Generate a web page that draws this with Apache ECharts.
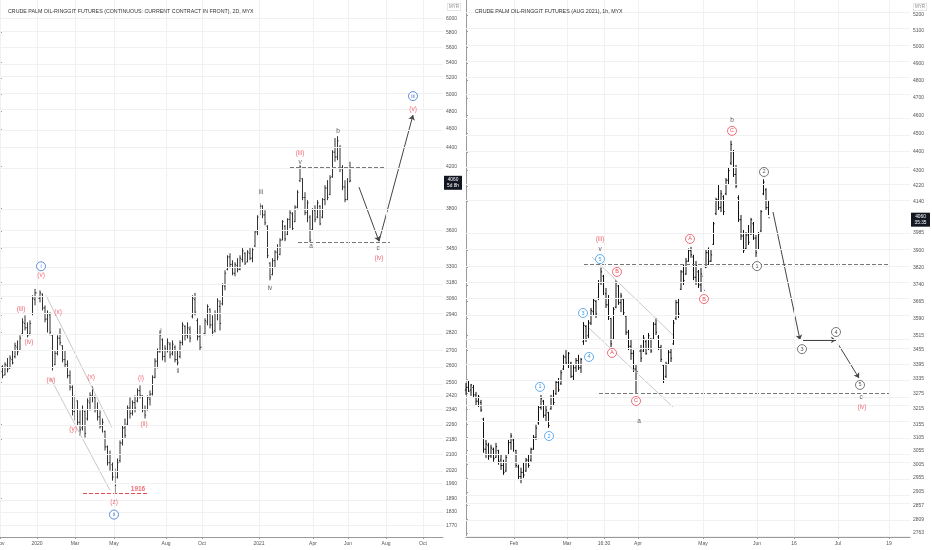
<!DOCTYPE html>
<html>
<head>
<meta charset="utf-8">
<script src="https://cdn.jsdelivr.net/npm/echarts@6/dist/echarts.min.js"></script>
<style>
  html, body { margin: 0; padding: 0; background: #fff; }
  #main { width: 932px; height: 550px; }
</style>
</head>
<body>
<div id="main"></div>
<script>
// left panel: 2D bars, oldest first, [open, high, low, close]
const leftBars = [
  [2530,2585,2511,2570],[2565,2604,2524,2540],[2545,2623,2542,2610],[2605,2650,2560,2580],[2585,2667,2585,2650],
  [2640,2699,2610,2620],[2660,2750,2648,2730],[2720,2765,2667,2690],[2700,2799,2699,2780],[2810,2916,2799,2890],
  [2880,2937,2832,2850],[2850,2888,2785,2800],[2810,2902,2799,2880],[2950,3082,2937,3060],[3050,3130,3008,3100],
  [3100,3165,3045,3060],[3060,3119,3030,3100],[3090,3095,2972,2990],[2990,3008,2888,2910],[2910,2972,2818,2950],
  [2940,2958,2799,2820],[2800,2806,2572,2590],[2610,2699,2604,2680],[2680,2799,2667,2780],[2780,2846,2732,2750],
  [2730,2732,2623,2640],[2640,2699,2592,2610],[2610,2635,2524,2540],[2540,2572,2451,2470],[2470,2481,2308,2330],
  [2330,2422,2280,2400],[2390,2393,2253,2270],[2270,2336,2199,2230],[2240,2364,2226,2340],[2330,2336,2188,2210],
  [2290,2405,2280,2390],[2380,2440,2336,2420],[2420,2475,2382,2460],[2410,2422,2325,2340],[2340,2382,2280,2300],
  [2300,2336,2237,2250],[2250,2291,2215,2270],[2220,2226,2121,2140],[2140,2147,2046,2060],[2060,2121,2021,2100],
  [2050,2061,1973,1990],[1990,2031,1916,1950],[1990,2081,1983,2060],[2070,2173,2061,2160],[2160,2253,2147,2240],
  [2240,2291,2183,2200],[2260,2364,2253,2350],[2350,2410,2291,2320],[2320,2393,2308,2380],[2380,2422,2325,2350],
  [2390,2463,2382,2450],[2450,2481,2405,2420],[2420,2422,2325,2340],[2340,2364,2291,2310],[2340,2422,2336,2410],
  [2400,2451,2364,2430],[2430,2542,2422,2530],[2530,2648,2524,2630],[2630,2712,2585,2690],[2690,2832,2686,2800],
  [2770,2778,2635,2660],[2660,2732,2623,2710],[2700,2778,2686,2750],[2740,2752,2648,2670],[2680,2765,2667,2740],
  [2720,2732,2623,2640],[2640,2699,2604,2620],[2660,2765,2648,2750],[2750,2888,2732,2870],[2860,2867,2765,2800],
  [2800,2888,2778,2850],[2840,2860,2752,2780],[2930,3082,2916,3060],[3050,3100,2937,2960],[2900,2916,2765,2790],
  [2790,2867,2699,2720],[2720,2832,2712,2810],[2810,2916,2799,2900],[2890,3015,2867,3000],[2980,2986,2846,2870],
  [2870,2937,2799,2820],[2830,2972,2818,2950],[2950,3060,2902,3040],[3000,3045,2832,2880],[3020,3172,3008,3160],
  [3150,3273,3119,3250],[3280,3394,3273,3380],[3380,3410,3290,3320],[3320,3353,3234,3250],[3250,3337,3226,3320],
  [3310,3370,3257,3280],[3280,3394,3273,3370],[3360,3452,3337,3430],[3410,3418,3314,3330],[3340,3435,3337,3420],
  [3410,3460,3353,3370],[3370,3452,3337,3440],[3470,3605,3460,3590],[3590,3737,3562,3720],[3740,3846,3737,3820],
  [3820,3828,3710,3740],[3740,3782,3648,3670],[3640,3648,3370,3390],[3330,3337,3195,3220],[3240,3370,3234,3350],
  [3350,3435,3290,3420],[3420,3485,3353,3380],[3400,3536,3394,3520],[3520,3693,3519,3680],[3640,3648,3510,3530],
  [3570,3710,3562,3700],[3700,3782,3622,3760],[3750,3764,3605,3620],[3680,3828,3675,3810],[3810,3969,3800,3950],
  [4060,4216,4049,4200],[4080,4086,3875,3900],[3900,3950,3737,3760],[3760,3875,3675,3850],[3720,3737,3502,3520],
  [3610,3800,3605,3780],[3780,3828,3675,3700],[3720,3875,3710,3850],[3820,3828,3648,3660],[3720,3894,3710,3880],
  [3880,4017,3828,3990],[3990,4066,3875,3900],[3930,4115,3921,4090],[4100,4370,4090,4350],[4350,4500,4250,4300],
  [4300,4520,4267,4470],[4400,4424,4145,4180],[4180,4216,3969,4000],[4000,4066,3856,3880],[3880,4086,3875,4050],
  [4050,4250,4049,4060]
];
const leftPriceTicks = [6000,5800,5600,5400,5200,5000,4800,4600,4400,4200,3800,3600,3450,3300,3180,3060,2940,2820,
  2700,2600,2500,2420,2340,2260,2180,2100,2020,1960,1890,1830,1770];
const leftDateTicks = [0, 14.8, 30, 45.6, 66.4, 80.8, 103.6, 125.2, 139.2, 154.4, 169.2];
const leftDateText = ['Nov','2020','Mar','May','Aug','Oct','2021','Apr','Jun','Aug','Oct'];
const leftRange = [1722.6, 6273.5];

// left panel wave labels [slot, price, text]
const leftRedText = [[8.4,2980,'(iii)'],[11.6,2753,'(iv)'],[16.4,3234,'(v)'],[23.2,2960,'(x)'],[20.4,2511,'(w)'],
  [36.4,2530,'(x)'],[29.2,2232,'(y)'],[45.6,1871,'(z)'],[56.4,2524,'(i)'],[57.6,2262,'(ii)'],
  [120,4339,'(iii)'],[151.6,3369,'(iv)'],[165.2,4824,'(v)']];
const leftLowText = [[55.2,1934,'1916']];
const leftBlackText = [[64.4,2826,'i'],[71.2,2566,'ii'],[104.4,3950,'iii'],[108,3134,'iv'],[120,4250,'v'],
  [124.4,3467,'a'],[135.2,4576,'b'],[151.2,3450,'c']];
const leftBlueCircles = [[16.4,3305,'i'],[45.6,1818,'ii'],[165.2,4978,'iii']];
// [slot1, price1, slot2, price2]
const leftDashed = [[116,4195,154.8,4195],[119.2,3501,156,3501]];
const leftLowLine = [[33.2,1916,58.8,1916]];
const leftChannel = [[18.4,3082,44.8,2242],[20,2530,44,1927]];
const leftArrows = [[143.6,3998,151.6,3510],[151.6,3510,165.2,4756]];

// right panel: 1h bars, oldest first, [open, high, low, close]
const rightBars = [
  [3290,3318,3270,3300],[3300,3330,3282,3285],[3290,3314,3266,3310],[3300,3310,3258,3270],[3270,3282,3230,3245],
  [3245,3270,3222,3262],[3240,3250,3203,3210],[3175,3180,3047,3060],[3060,3095,3028,3080],[3075,3084,3021,3035],
  [3035,3077,3028,3065],[3060,3066,3014,3025],[3030,3084,3028,3070],[3055,3058,3003,3015],[3020,3040,2984,3000],
  [3000,3021,2966,2975],[2980,3040,2977,3030],[3040,3095,3040,3085],[3085,3121,3058,3110],[3095,3103,3051,3060],
  [3055,3058,2992,3000],[2995,3003,2947,2960],[2960,2992,2936,2975],[2975,3010,2955,2965],[2980,3028,2977,3020],
  [3020,3040,2992,3000],[3020,3066,3014,3060],[3060,3114,3058,3105],[3105,3153,3095,3140],[3160,3230,3153,3220],
  [3220,3270,3211,3255],[3245,3250,3180,3190],[3190,3230,3164,3210],[3200,3203,3141,3150],[3215,3270,3211,3260],
  [3260,3290,3230,3240],[3275,3330,3270,3320],[3320,3338,3282,3290],[3315,3371,3310,3360],[3375,3434,3371,3425],
  [3425,3454,3392,3400],[3400,3446,3379,3440],[3400,3405,3338,3345],[3345,3392,3330,3380],[3380,3421,3363,3410],
  [3410,3434,3371,3380],[3380,3421,3359,3415],[3490,3574,3476,3560],[3555,3561,3488,3500],[3515,3583,3505,3570],
  [3570,3636,3561,3625],[3620,3681,3605,3670],[3665,3672,3592,3610],[3680,3762,3672,3750],[3750,3820,3740,3800],
  [3780,3786,3694,3700],[3700,3726,3636,3650],[3650,3694,3583,3600],[3590,3592,3467,3480],[3500,3640,3497,3630],
  [3640,3762,3635,3750],[3735,3740,3650,3660],[3660,3704,3618,3690],[3675,3681,3605,3615],[3600,3605,3518,3530],
  [3530,3540,3454,3470],[3470,3497,3413,3440],[3440,3454,3363,3375],[3375,3392,3278,3360],[3365,3463,3360,3450],
  [3450,3476,3404,3420],[3450,3518,3446,3505],[3490,3497,3434,3440],[3460,3527,3454,3515],[3500,3505,3442,3450],
  [3500,3574,3497,3565],[3565,3592,3518,3530],[3510,3518,3454,3465],[3465,3476,3404,3415],[3390,3392,3318,3330],
  [3345,3405,3338,3395],[3395,3454,3392,3445],[3445,3463,3404,3420],[3480,3583,3476,3570],[3590,3672,3583,3660],
  [3660,3681,3592,3610],[3720,3809,3717,3800],[3800,3832,3740,3760],[3790,3865,3786,3850],[3850,3910,3847,3900],
  [3900,3918,3866,3880],[3870,3880,3762,3775],[3775,3851,3740,3830],[3800,3809,3726,3740],[3740,3818,3708,3790],
  [3780,3786,3708,3715],[3820,3903,3818,3890],[3890,3915,3832,3850],[3850,3903,3847,3880],[3930,4039,3927,4030],
  [4080,4160,4073,4150],[4150,4225,4098,4110],[4110,4199,4088,4180],[4165,4173,4073,4090],[4180,4261,4173,4250],
  [4250,4314,4225,4300],[4340,4460,4330,4440],[4400,4410,4267,4280],[4280,4330,4209,4220],[4160,4173,4039,4050],
  [4050,4073,3951,3970],[3970,3999,3889,3900],[3910,3989,3903,3975],[3975,4024,3927,3940],[3980,4059,3975,4050],
  [4030,4039,3951,3960],[3960,3975,3870,3890],[3910,3989,3903,3980],[3995,4098,3989,4090],[4180,4255,4173,4240],
  [4200,4209,4098,4110],[4110,4148,4073,4060]
];
const rightPriceTicks = [5200,5100,5000,4900,4800,4700,4600,4500,4400,4300,4220,4140,3985,3900,3820,3740,3665,3590,
  3515,3455,3395,3335,3275,3215,3155,3105,3055,3005,2955,2905,2857,2809,2763];
const rightDateTicks = [19.2, 40.4, 55.2, 68.8, 94.8, 116.4, 131.2, 148.8, 169.2];
const rightDateText = ['Feb','Mar','16:30','Apr','May','Jun','16','Jul','19'];
const rightRange = [2749.2, 5296];

const rightBlueCircles = [[29.6,3302,'1'],[33.2,3110,'2'],[46.8,3614,'3'],[49.2,3425,'4'],[53.6,3860,'5']];
const rightRedCircles = [[58.4,3442,'A'],[60.4,3800,'B'],[68,3246,'C'],[89.6,3956,'A'],[95.2,3676,'B'],[106.4,4514,'C']];
const rightGrayCircles = [[116.4,3827,'1'],[119.2,4293,'2'],[134.4,3458,'3'],[148,3531,'4'],[157.6,3310,'5']];
const rightBlackText = [[53.6,3908,'v'],[106.4,4574,'b'],[69.2,3167,'a'],[158,3262,'c']];
const rightRedText = [[53.6,3956,'(iii)'],[158.4,3222,'(iv)']];
const rightDashed = [[47.2,3837,169.2,3837],[53.2,3278,169.2,3278]];
const rightChannel = [[50.4,3870,82.8,3518],[49.2,3548,82.8,3222]];
const rightArrows = [[122.8,4088,133.6,3497],[134.8,3497,148,3497],[148.8,3480,157.2,3338]];

const FONT = 'Liberation Sans, Arial, sans-serif';
const RED = '#ec4a55';
const L = Math.log;

const chart = echarts.init(document.getElementById('main'));

function barSeries(gi, bars, color) {
  return {
    type: 'custom', xAxisIndex: gi, yAxisIndex: gi, z: 3, silent: true,
    data: bars.map((b, i) => [i, L(b[0]), L(b[1]), L(b[2]), L(b[3])]),
    encode: { x: 0, y: [1, 2, 3, 4] },
    renderItem: function (params, api) {
      const x = api.value(0);
      const o = api.coord([x, api.value(1)]);
      const h = api.coord([x, api.value(2)]);
      const l = api.coord([x, api.value(3)]);
      const c = api.coord([x, api.value(4)]);
      const style = { stroke: color, lineWidth: 1 };
      return {
        type: 'group',
        children: [
          { type: 'line', shape: { x1: h[0], y1: h[1], x2: l[0], y2: l[1] }, style: style },
          { type: 'line', shape: { x1: o[0] - 1.1, y1: o[1], x2: o[0], y2: o[1] }, style: style },
          { type: 'line', shape: { x1: c[0], y1: c[1], x2: c[0] + 1.1, y2: c[1] }, style: style }
        ]
      };
    }
  };
}

function textSeries(gi, rows, color, size, weight) {
  return {
    type: 'scatter', xAxisIndex: gi, yAxisIndex: gi, z: 6, silent: true,
    symbolSize: 1, itemStyle: { color: 'rgba(0,0,0,0)' },
    data: rows.map(r => [r[0], L(r[1]), r[2]]),
    label: { show: true, position: 'inside', formatter: p => p.value[2],
      color: color, fontSize: size, fontWeight: weight || 'normal', fontFamily: FONT }
  };
}

function circleSeries(gi, rows, color) {
  return {
    type: 'scatter', xAxisIndex: gi, yAxisIndex: gi, z: 6, silent: true,
    symbol: 'circle', symbolSize: 9,
    itemStyle: { color: '#fff', borderColor: color, borderWidth: 0.8, opacity: 1 },
    data: rows.map(r => [r[0], L(r[1]), r[2]]),
    label: { show: true, position: 'inside', formatter: p => p.value[2],
      color: color, fontSize: 5.5, fontFamily: FONT }
  };
}

function lineSeries(gi, rows, color, type, arrow) {
  return {
    type: 'lines', coordinateSystem: 'cartesian2d', xAxisIndex: gi, yAxisIndex: gi, z: 4, silent: true,
    symbol: arrow ? ['none', 'arrow'] : ['none', 'none'], symbolSize: arrow ? 5 : 0,
    lineStyle: { color: color, width: 1, type: type, opacity: 1, curveness: 0 },
    data: rows.map(r => ({ coords: [[r[0], L(r[1])], [r[2], L(r[3])]] }))
  };
}

function gridSeries(gi, xs, prices) {
  return {
    type: 'line', xAxisIndex: gi, yAxisIndex: gi, z: 1, silent: true, data: [],
    markLine: {
      silent: true, symbol: ['none', 'none'], animation: false,
      label: { show: false },
      lineStyle: { color: '#f1f1f3', width: 1, type: 'solid' },
      data: xs.map(v => ({ xAxis: v })).concat(prices.map(p => ({ yAxis: L(p) })))
    }
  };
}

function xAxis(gi, max, ticks, texts) {
  return {
    gridIndex: gi, type: 'value', min: 0, max: max,
    axisLine: { show: true, lineStyle: { color: '#9a9a9a', width: 1 } },
    axisTick: { show: true, customValues: ticks, length: 2, lineStyle: { color: '#9a9a9a' } },
    axisLabel: { show: true, customValues: ticks, margin: 4, fontSize: 5, color: '#555', fontFamily: FONT,
      formatter: v => { const i = ticks.findIndex(t => Math.abs(t - v) < 0.01); return i >= 0 ? texts[i] : ''; } },
    splitLine: { show: false }
  };
}

function yAxis(gi, range, ticks) {
  return {
    gridIndex: gi, type: 'value', position: 'right', min: L(range[0]), max: L(range[1]),
    axisLine: { show: true, lineStyle: { color: '#9a9a9a', width: 1 } },
    axisTick: { show: true, customValues: ticks.map(L), length: 2, lineStyle: { color: '#9a9a9a' } },
    axisLabel: { show: true, customValues: ticks.map(L), margin: 3, fontSize: 5, color: '#555', fontFamily: FONT,
      formatter: v => String(Math.round(Math.exp(v))) },
    splitLine: { show: false }
  };
}

function myrTag(x) {
  return { type: 'text', left: x, top: 3, z: 10, style: { text: 'MYR', fill: '#888', font: '4.5px ' + FONT,
    backgroundColor: '#fff', borderColor: '#ccc', borderWidth: 0.5, padding: [1, 1.5] } };
}

chart.setOption({
  animation: false,
  backgroundColor: '#fff',
  title: [
    { text: 'CRUDE PALM OIL-RINGGIT FUTURES (CONTINUOUS: CURRENT CONTRACT IN FRONT), 2D, MYX',
      left: 3, top: 4, textStyle: { fontSize: 5.3, color: '#333', fontWeight: 'normal', fontFamily: FONT } },
    { text: 'CRUDE PALM OIL-RINGGIT FUTURES (AUG 2021), 1h, MYX',
      left: 470, top: 4, textStyle: { fontSize: 5.3, color: '#333', fontWeight: 'normal', fontFamily: FONT } }
  ],
  grid: [
    { left: 0, top: 0, width: 443, height: 537, outerBoundsMode: 'none', containLabel: false },
    { left: 466, top: 0, width: 444, height: 537, outerBoundsMode: 'none', containLabel: false }
  ],
  xAxis: [
    xAxis(0, 177.2, leftDateTicks, leftDateText),
    xAxis(1, 177.6, rightDateTicks, rightDateText)
  ],
  yAxis: [
    yAxis(0, leftRange, leftPriceTicks),
    yAxis(1, rightRange, rightPriceTicks)
  ],
  series: [
    gridSeries(0, leftDateTicks, leftPriceTicks),
    gridSeries(1, rightDateTicks, rightPriceTicks),
    lineSeries(0, leftChannel, '#c9c9c9', 'solid', false),
    lineSeries(1, rightChannel, '#c9c9c9', 'solid', false),
    barSeries(0, leftBars, '#333'),
    barSeries(1, rightBars, '#111'),
    lineSeries(0, leftDashed, '#777', 'dashed', false),
    lineSeries(0, leftLowLine, RED, 'dashed', false),
    lineSeries(0, leftArrows, '#444', 'solid', true),
    lineSeries(1, rightDashed, '#777', 'dashed', false),
    lineSeries(1, rightArrows, '#444', 'solid', true),
    textSeries(0, leftRedText, RED, 6.5),
    textSeries(0, leftLowText, RED, 6.5, 'bold'),
    textSeries(0, leftBlackText, '#333', 6.5),
    circleSeries(0, leftBlueCircles, '#3b6fd4'),
    circleSeries(1, rightBlueCircles, '#3d9be9'),
    circleSeries(1, rightRedCircles, RED),
    circleSeries(1, rightGrayCircles, '#555'),
    textSeries(1, rightBlackText, '#333', 6.5),
    textSeries(1, rightRedText, RED, 6.5)
  ]
});

// last-price tags on the price axes, placed through the axis scale
function priceTag(gi, bars, sub, x, w) {
  const last = bars[bars.length - 1][3];
  const y = chart.convertToPixel({ gridIndex: gi }, [0, L(last)])[1];
  return {
    type: 'group', x: x, y: y - 5, z: 10,
    children: [
      { type: 'rect', shape: { x: 0, y: 0, width: w, height: 14 }, style: { fill: '#131722' } },
      { type: 'text', style: { text: last + '\n' + sub, x: w / 2, y: 7, align: 'center', verticalAlign: 'middle',
        fill: '#fff', font: '4.8px ' + FONT, lineHeight: 6 } }
    ]
  };
}

chart.setOption({
  graphic: [
    myrTag(447), myrTag(913),
    priceTag(0, leftBars, '5d 8h', 444, 18),
    priceTag(1, rightBars, '35:35', 911, 19)
  ]
});
</script>
</body>
</html>
